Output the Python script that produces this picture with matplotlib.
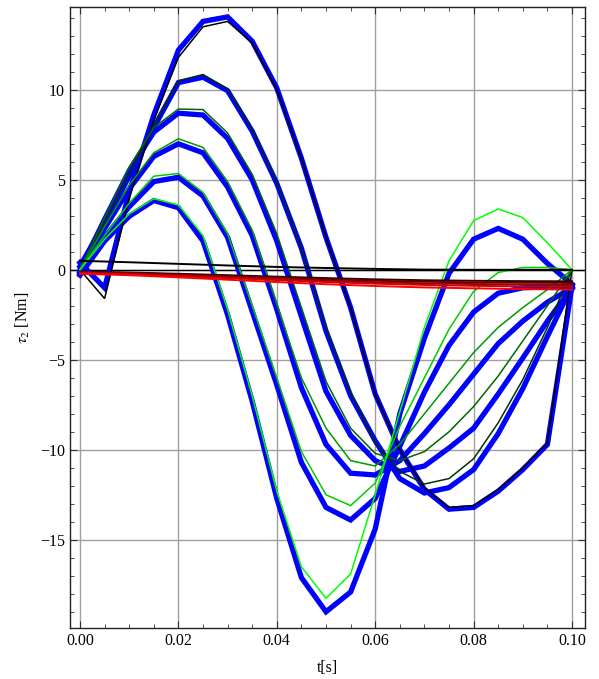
import matplotlib
matplotlib.use("Agg")
import matplotlib.pyplot as plt
from matplotlib.ticker import MultipleLocator

# time samples
t = [0.0, 0.005, 0.01, 0.015, 0.02, 0.025, 0.03, 0.035, 0.04, 0.045, 0.05,
     0.055, 0.06, 0.065, 0.07, 0.075, 0.08, 0.085, 0.09, 0.095, 0.1]

# measured torque (thick blue), largest swing first
act_a = [0.4, -1.0, 4.3, 8.6, 12.2, 13.8, 14.05, 12.7, 10.1, 6.2, 1.8,
         -2.1, -6.9, -10.0, -12.2, -13.3, -13.2, -12.3, -11.1, -9.7, -0.9]
act_b = [0.2, 2.6, 5.2, 7.9, 10.4, 10.7, 9.95, 7.7, 4.8, 1.2, -3.4,
         -7.0, -9.5, -11.6, -12.4, -12.1, -11.1, -9.1, -6.6, -3.7, -0.9]
act_c = [0.0, 2.8, 5.5, 7.65, 8.7, 8.6, 7.3, 5.0, 1.6, -2.6, -6.75,
         -9.2, -10.6, -11.2, -10.9, -9.9, -8.8, -6.9, -4.9, -2.85, -1.0]
act_d = [-0.1, 2.3, 4.5, 6.3, 7.0, 6.5, 4.6, 1.9, -2.2, -6.55, -9.7,
         -11.3, -11.4, -10.6, -9.1, -7.5, -5.8, -4.1, -2.85, -1.8, -1.0]
act_e = [-0.2, 1.8, 3.5, 4.9, 5.14, 4.1, 1.8, -2.3, -6.4, -10.7, -13.2,
         -13.9, -12.7, -9.8, -6.8, -4.2, -2.35, -1.3, -1.0, -0.95, -1.0]
act_f = [-0.3, 1.6, 2.97, 3.85, 3.45, 1.6, -2.5, -7.3, -12.7, -17.1, -19.0,
         -17.9, -14.4, -8.0, -3.8, -0.2, 1.7, 2.3, 1.7, 0.35, -0.8]

# reference torque (thin, black -> green)
ref_a = [0.0, -1.6, 4.0, 8.3, 11.8, 13.5, 13.8, 12.6, 10.0, 6.2, 1.8,
         -2.1, -6.9, -10.0, -12.1, -13.2, -13.1, -12.2, -11.0, -9.6, 0.0]
ref_b = [0.0, 2.6, 5.3, 8.0, 10.5, 10.85, 10.05, 7.8, 4.9, 1.2, -3.2,
         -6.8, -9.6, -11.2, -11.9, -11.6, -10.5, -8.5, -6.1, -3.2, 0.0]
ref_c = [0.0, 2.9, 5.7, 7.9, 8.93, 8.9, 7.6, 5.3, 2.0, -2.1, -6.2,
         -8.8, -10.2, -10.6, -10.1, -9.0, -7.6, -5.9, -3.95, -2.0, 0.0]
ref_d = [0.0, 2.4, 4.7, 6.5, 7.28, 6.8, 4.9, 2.2, -1.9, -6.0, -8.8,
         -10.6, -10.9, -9.7, -8.0, -6.3, -4.6, -3.2, -2.1, -1.1, 0.0]
ref_e = [0.0, 1.9, 3.7, 5.2, 5.35, 4.3, 2.0, -2.0, -6.0, -10.1, -12.5,
         -13.1, -11.85, -8.7, -6.0, -3.3, -1.2, -0.15, 0.13, 0.13, 0.0]
ref_f = [0.0, 1.7, 3.1, 3.95, 3.6, 1.9, -2.2, -7.0, -12.3, -16.5, -18.25,
         -16.9, -12.5, -7.9, -3.2, 0.5, 2.73, 3.38, 2.9, 1.5, 0.0]

# small torques (thin, black -> red)
t_small = [0.0, 0.01, 0.02, 0.03, 0.04, 0.05, 0.06, 0.07, 0.08, 0.09, 0.1]
small_0 = [0.5, 0.42, 0.33, 0.24, 0.16, 0.1, 0.05, 0.01, 0.0, 0.0, 0.0]
small_1 = [-0.1, -0.15, -0.22, -0.3, -0.38, -0.46, -0.53, -0.58, -0.61, -0.63, -0.64]
small_2 = [-0.12, -0.18, -0.26, -0.35, -0.44, -0.53, -0.61, -0.66, -0.7, -0.72, -0.73]
small_3 = [-0.15, -0.21, -0.3, -0.4, -0.5, -0.6, -0.69, -0.75, -0.79, -0.82, -0.84]
small_4 = [-0.18, -0.25, -0.35, -0.46, -0.57, -0.68, -0.77, -0.84, -0.89, -0.92, -0.94]
small_5 = [-0.22, -0.3, -0.42, -0.55, -0.68, -0.8, -0.9, -0.98, -1.03, -1.07, -1.1]

actual = [act_a, act_b, act_c, act_d, act_e, act_f]
reference = [ref_a, ref_b, ref_c, ref_d, ref_e, ref_f]
small = [small_0, small_1, small_2, small_3, small_4, small_5]


def main():
  plt.rcParams['font.family'] = ['Liberation Serif', 'DejaVu Serif']
  plt.rcParams['mathtext.fontset'] = 'stix'

  fig = plt.figure(figsize=(5.99, 6.79), dpi=100)
  ax = fig.add_axes([70 / 599, 1 - 628 / 679, 515 / 599, 621 / 679])

  ax.grid(True, which='major', color='#a0a0a0', lw=1.0)
  ax.set_axisbelow(True)
  ax.axhline(0, color='black', lw=1.0, zorder=1.5)

  n = len(actual)
  for y in actual:
    ax.plot(t, y, color='#0000ff', lw=3.8, solid_joinstyle='miter',
            solid_capstyle='projecting', zorder=2)
  for i, y in enumerate(reference):
    g = i / (n - 1)
    ax.plot(t, y, color=(0, g, 0), lw=1.1, solid_joinstyle='miter', zorder=3)
  for i, y in enumerate(small):
    r = i / (len(small) - 1)
    ax.plot(t_small, y, color=(r, 0, 0), lw=1.4, zorder=4)

  ax.set_xlim(-0.00203, 0.10264)
  ax.set_ylim(-19.9, 14.6)
  ax.xaxis.set_major_locator(MultipleLocator(0.02))
  ax.xaxis.set_minor_locator(MultipleLocator(0.005))
  ax.yaxis.set_major_locator(MultipleLocator(5))
  ax.yaxis.set_minor_locator(MultipleLocator(1))
  ax.xaxis.set_major_formatter(matplotlib.ticker.FormatStrFormatter('%.2f'))
  ax.tick_params(which='both', direction='in', top=True, right=True,
                 labelsize=11.5, color='#333333')
  ax.tick_params(which='major', length=5, width=0.8)
  ax.tick_params(which='minor', length=3, width=0.6)
  for s in ax.spines.values():
    s.set_linewidth(1.0)
    s.set_color('#222222')

  ax.set_xlabel('t[s]', fontsize=11.5, labelpad=8)
  ax.set_ylabel(r'$\tau_2$ [Nm]', fontsize=11.5, labelpad=6)

  fig.savefig('out.png', dpi=100)


if __name__ == "__main__":
  main()
